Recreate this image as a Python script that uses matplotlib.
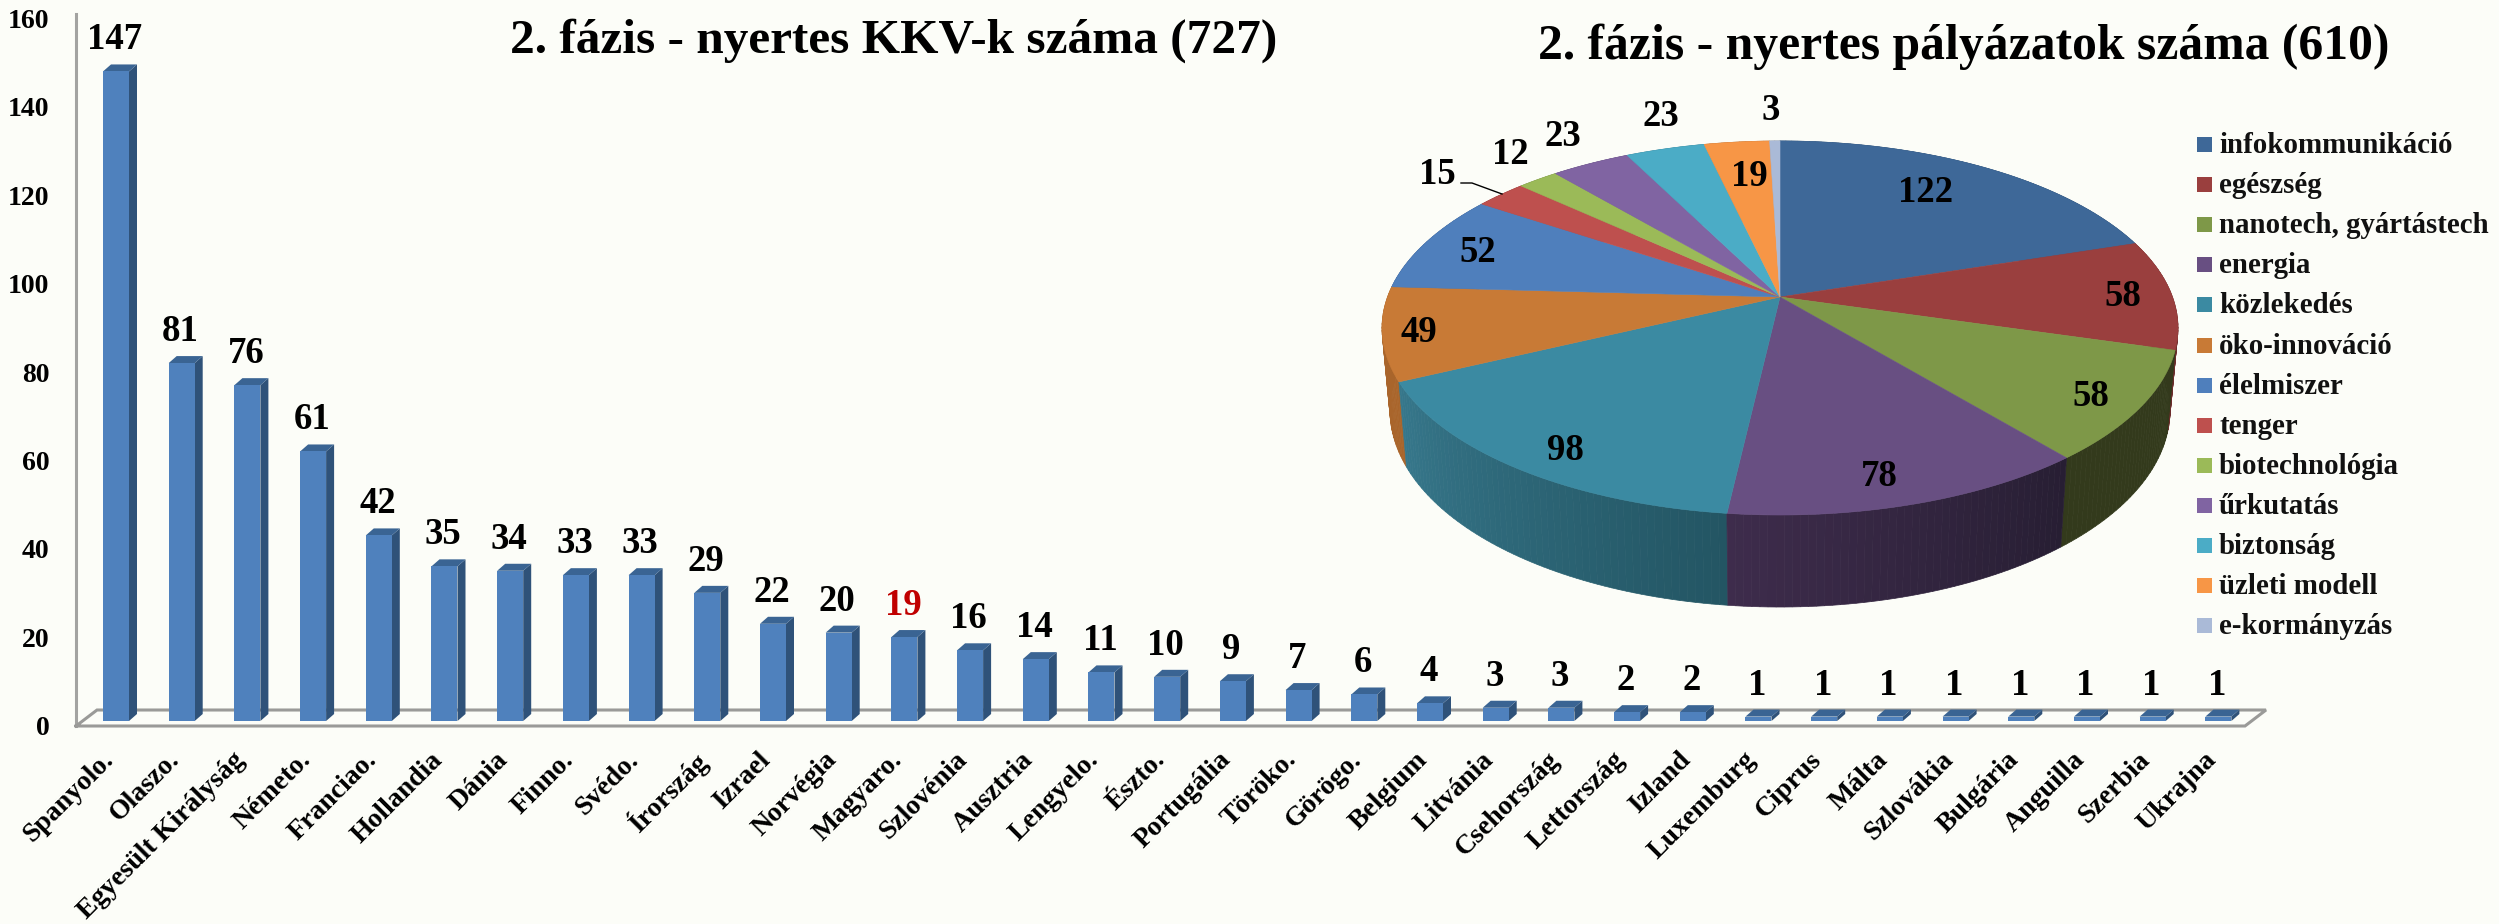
import matplotlib
matplotlib.use("Agg")
import matplotlib.pyplot as plt
import matplotlib.transforms as mtrans
import numpy as np

W, H = 2499, 924
BG = "#FCFDF8"
SERIF = "Liberation Serif"

countries = [
    "Spanyolo.", "Olaszo.", "Egyesült Királyság", "Németo.", "Franciao.", "Hollandia", "Dánia",
    "Finno.", "Svédo.", "Írország", "Izrael", "Norvégia", "Magyaro.", "Szlovénia", "Ausztria",
    "Lengyelo.", "Észto.", "Portugália", "Töröko.", "Görögo.", "Belgium", "Litvánia", "Csehország",
    "Lettország", "Izland", "Luxemburg", "Ciprus", "Málta", "Szlovákia", "Bulgária", "Anguilla",
    "Szerbia", "Ukrajna",
]
smes = [147, 81, 76, 61, 42, 35, 34, 33, 33, 29, 22, 20, 19, 16, 14, 11, 10, 9, 7, 6, 4, 3, 3, 2, 2,
        1, 1, 1, 1, 1, 1, 1, 1]
y_ticks = [0, 20, 40, 60, 80, 100, 120, 140, 160]

sectors = [
    "infokommunikáció", "egészség", "nanotech, gyártástech", "energia", "közlekedés", "öko-innováció",
    "élelmiszer", "tenger", "biotechnológia", "űrkutatás", "biztonság", "üzleti modell", "e-kormányzás",
]
projects = [122, 58, 58, 78, 98, 49, 52, 15, 12, 23, 23, 19, 3]
top_colors = ["#3E6898", "#9A3F3E", "#7E9848", "#684F82", "#3B8AA2", "#C87A36", "#4F7FBC",
              "#BE504E", "#9BBA58", "#8064A2", "#4BACC6", "#F79646", "#AABAD7"]
side_left = ["#2B4A6C", "#6C2C2B", "#333A1C", "#3E2C4C", "#37788C", "#A9652B", "#37598A",
             "#853836", "#6D823E", "#5A4672", "#34788B", "#AD6931", "#77828F"]
side_right = ["#2B4A6C", "#6C2C2B", "#333A1C", "#271E33", "#235563", "#A9652B", "#37598A",
              "#853836", "#6D823E", "#5A4672", "#34788B", "#AD6931", "#77828F"]
pie_label_px = [(1926, 193), (2123, 296), (2091, 396), (1879, 477), (1565, 451), (1419, 333), (1478, 253),
                (1437, 174), (1510, 155), (1563, 137), (1661, 117), (1749, 177), (1771, 111)]

# bar axes geometry, in pixels of the reference
PX_CAT = 65.7
PX_UNIT = 4.42
X0_PX, Y0_PX = 116, 721
AX_L, AX_R, AX_T, AX_B = 76, 2266, 14, 726
DX = 8 / PX_CAT
DY = 7 / PX_UNIT
BAR_W = 26 / PX_CAT

# perspective of the pie disc
PIE_CX, PIE_CY = 1780, 297
PIE_A, PIE_B, PIE_K = 392.5, 181.9, 0.1657


def project(theta):
    u, v = np.sin(theta), np.cos(theta)
    w = 1 + PIE_K * v
    return PIE_CX + PIE_A * u / w, PIE_CY - PIE_B * v / w


def project_bottom(theta):
    x, y = project(theta)
    depth = 80 + 12 * np.clip(-np.cos(theta), 0, None)
    return PIE_CX + (x - PIE_CX) * 0.98, y + depth


def mix(c1, c2, t):
    a = np.array(matplotlib.colors.to_rgb(c1))
    b = np.array(matplotlib.colors.to_rgb(c2))
    return tuple(a + (b - a) * t)


plt.rcParams["font.family"] = [SERIF, "DejaVu Serif"]
plt.rcParams["font.weight"] = "bold"

fig = plt.figure(figsize=(W / 100, H / 100), dpi=100, facecolor=BG)

# bars
ax = fig.add_axes([AX_L / W, 1 - AX_B / H, (AX_R - AX_L) / W, (AX_B - AX_T) / H])
ax.set_facecolor("none")
ax.set_xlim((AX_L - X0_PX) / PX_CAT, (AX_R - X0_PX) / PX_CAT)
ax.set_ylim((Y0_PX - AX_B) / PX_UNIT, (Y0_PX - AX_T) / PX_UNIT)
for spine in ax.spines.values():
    spine.set_visible(False)

x = np.arange(len(smes))
x_lo, x_hi = ax.get_xlim()
y_lo, y_hi = ax.get_ylim()
floor_dx = 21 / PX_CAT
floor_dy = 16 / PX_UNIT
ax.plot([x_lo, x_lo], [y_lo, y_hi], color="#A3A3A1", lw=2.2, clip_on=False, zorder=1)
ax.plot([x_lo, x_hi - floor_dx, x_hi, x_lo + floor_dx, x_lo],
        [y_lo, y_lo, y_lo + floor_dy, y_lo + floor_dy, y_lo],
        color="#9A9A98", lw=2.2, clip_on=False, zorder=1, solid_joinstyle="miter")

ax.bar(x, smes, width=BAR_W, color="#4F81BD", edgecolor="none", zorder=4)
for xi, val in zip(x, smes):
    left, right = xi - BAR_W / 2, xi + BAR_W / 2
    ax.fill([right, right + DX, right + DX, right], [0, DY, val + DY, val],
            color="#2F5279", lw=0, zorder=3, clip_on=False)
    ax.fill([left, left + DX, right + DX, right], [val, val + DY, val + DY, val],
            color="#3A6493", lw=0, zorder=3, clip_on=False)
    color = "#C00000" if countries[xi] == "Magyaro." else "black"
    ax.annotate(str(val), (xi, val + DY), xytext=(-1, 15 * 0.72), textcoords="offset points",
                ha="center", va="baseline", fontsize=26.5, color=color, annotation_clip=False)

ax.set_yticks(y_ticks)
ax.set_xticks(x)
ax.set_xticklabels(countries, rotation=45, ha="right", va="top", rotation_mode="anchor", fontsize=20)
ax.tick_params(axis="both", length=0)
ax.tick_params(axis="x", pad=16)
ax.tick_params(axis="y", pad=19, labelsize=20)
shift = mtrans.ScaledTranslation(0, -4.5 / 100, fig.dpi_scale_trans)
for label in ax.get_yticklabels():
    label.set_transform(label.get_transform() + shift)
shift_x = mtrans.ScaledTranslation(-15 / 100, 1 / 100, fig.dpi_scale_trans)
for label in ax.get_xticklabels():
    label.set_transform(label.get_transform() + shift_x)

# overlay in reference pixels, for the pie and the titles
ov = fig.add_axes([0, 0, 1, 1])
ov.set_xlim(0, W)
ov.set_ylim(H, 0)
ov.axis("off")
ov.patch.set_alpha(0)

edges = np.cumsum([0] + projects) / sum(projects) * 2 * np.pi

# side wall, far pieces first
quads = []
for i in range(len(projects)):
    n = max(2, int(np.degrees(edges[i + 1] - edges[i])))
    steps = np.linspace(edges[i], edges[i + 1], n + 1)
    for j in range(n):
        quads.append((np.cos(steps[j]), steps[j], steps[j + 1], mix(side_left[i], side_right[i], 1 - (j + 0.5) / n)))
quads.sort(key=lambda q: -q[0])
for _, t0, t1, col in quads:
    x0, y0 = project(t0)
    x1, y1 = project(t1)
    x2, y2 = project_bottom(t1)
    x3, y3 = project_bottom(t0)
    ov.fill([x0, x1, x2, x3], [y0, y1, y2, y3], facecolor=col, edgecolor=col, lw=0.5, zorder=2)

# top of the disc
for i, col in enumerate(top_colors):
    theta = np.linspace(edges[i], edges[i + 1], max(3, int(np.degrees(edges[i + 1] - edges[i])) * 2))
    xs, ys = project(theta)
    ov.fill(np.r_[PIE_CX, xs], np.r_[PIE_CY, ys], facecolor=col, edgecolor=col, lw=0.4, zorder=3)

for val, (px, py) in zip(projects, pie_label_px):
    ov.text(px, py, str(val), ha="center", va="center", fontsize=26.5, color="black", zorder=5)
ov.plot([1461, 1472, 1502], [183, 183, 194], color="black", lw=1.0, zorder=4)

# legend
for i, (name, col) in enumerate(zip(sectors, top_colors)):
    yc = 144.5 + i * 40.1
    ov.fill([2197, 2212, 2212, 2197], [yc - 7.5, yc - 7.5, yc + 7.5, yc + 7.5], color=col, lw=0, zorder=3)
    ov.text(2219, yc + 1, name, ha="left", va="center", fontsize=20.8, color="#111111", zorder=5)

ov.text(894, 41, "2. fázis - nyertes KKV-k száma (727)", ha="center", va="center", fontsize=35.5, color="black")
ov.text(1964, 47, "2. fázis - nyertes pályázatok száma (610)", ha="center", va="center", fontsize=35.7, color="black")

fig.savefig("out.png", dpi=100, facecolor=BG)
plt.close(fig)
